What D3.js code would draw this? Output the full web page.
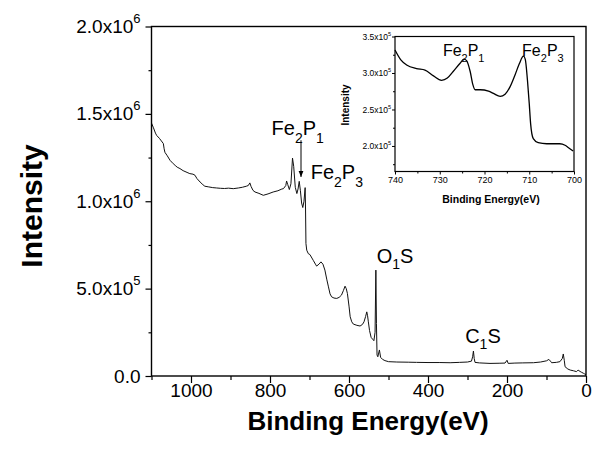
<!DOCTYPE html>
<html><head><meta charset="utf-8">
<script src="https://cdn.jsdelivr.net/npm/d3@7"></script>
<style>
body{margin:0;background:#fff;}
svg{display:block;font-family:"Liberation Sans",Arial,sans-serif;}
</style></head>
<body><svg id="c" width="609" height="461"></svg>
<script>
// ---- main survey spectrum (binding energy eV, intensity counts) ----
const mainEnergy = [1100,1095,1090,1087,1080,1075,1070,1068,1066,1060,1053,1045,1040,1035,1028,1020,1010,1003,995,990,985,977,970,965,955,945,935,925,915,905,893,880,870,860,855,851,848,843,838,828,817,805,792,780,770,766,760,758,755,751,747,743,740,736,732,729,726,723,720,717,714,711,710,709,707,703,699,690,685,682,676,671,666,661,656,652,648,644,638,631,625,619,614,610,607,604,600,597,593,589,580,572,566,562,558,555,553,551,548,544,540,537,534,532,530.5,529,527,523,520,515,509,500,479,450,429,400,370,344,320,300,290,287,285,283,281,270,243,220,205,200,197,180,160,133,115,100,94,90,87,75,66,60,57.5,55,53,46,40,32,24,20,15,11,6,3,0];
const mainIntensity = [1.447,1.42,1.39,1.377,1.36,1.345,1.33,1.30,1.28,1.26,1.234,1.215,1.205,1.195,1.187,1.175,1.165,1.158,1.155,1.149,1.13,1.11,1.095,1.086,1.082,1.078,1.076,1.074,1.073,1.075,1.072,1.076,1.08,1.086,1.09,1.105,1.085,1.062,1.053,1.045,1.034,1.042,1.053,1.06,1.07,1.072,1.09,1.116,1.095,1.067,1.10,1.247,1.20,1.08,1.044,1.07,1.114,1.06,0.99,0.964,1.00,1.078,0.95,0.758,0.72,0.70,0.695,0.66,0.64,0.629,0.64,0.653,0.64,0.606,0.55,0.51,0.47,0.453,0.446,0.444,0.45,0.463,0.49,0.514,0.50,0.472,0.40,0.339,0.31,0.297,0.29,0.286,0.295,0.31,0.34,0.367,0.345,0.31,0.26,0.221,0.21,0.202,0.25,0.606,0.30,0.12,0.11,0.149,0.107,0.095,0.088,0.082,0.08,0.079,0.078,0.077,0.077,0.076,0.078,0.08,0.085,0.11,0.143,0.10,0.078,0.075,0.072,0.073,0.074,0.09,0.072,0.074,0.075,0.076,0.08,0.087,0.095,0.085,0.076,0.078,0.082,0.10,0.126,0.09,0.053,0.04,0.034,0.03,0.025,0.034,0.026,0.021,0.015,0.011,0.008].map(v => v * 1e6);

// ---- inset: Fe 2p region ----
const insetEnergy = [740,738.7,737.4,735.2,733.3,731.4,729.6,728.3,727,725.5,724.6,724,723.2,722.6,722.1,721,719.1,718,716.5,715.4,714.3,713.2,712.2,711.3,710.9,710.4,710,709.7,709.1,708,706.1,703.2,702,701.3,700.2];
const insetIntensity = [3.315,3.18,3.11,3.06,3.04,2.96,2.90,2.93,3.02,3.13,3.19,3.17,3.02,2.84,2.77,2.77,2.75,2.72,2.68,2.71,2.81,2.97,3.13,3.23,3.19,2.90,2.58,2.31,2.10,2.045,2.03,2.03,2.01,1.98,1.93].map(v => v * 1e5);

const mainXMajor = [1000,800,600,400,200,0];
const mainXMinor = [1100,900,700,500,300,100];
const mainYMajor = [0,5e5,1e6,1.5e6,2e6];
const mainYMinor = [2.5e5,7.5e5,1.25e6,1.75e6];
const insetXMajor = [740,730,720,710,700];
const insetXMinor = [735,725,715,705];
const insetYMajor = [2.0e5,2.5e5,3.0e5,3.5e5];
const insetYMinor = [1.75e5,2.25e5,2.75e5,3.25e5];

const svg = d3.select('#c');
const FONT = '"Liberation Sans",Arial,sans-serif';

function sciLabel(sel, supSize, supDy) {
  sel.each(function(d){
    const t = d3.select(this); t.text('');
    if (d === 0) { t.text('0.0'); return; }
    const e = Math.floor(Math.log10(d) + 1e-9);
    const m = (d / Math.pow(10, e)).toFixed(1);
    t.append('tspan').text(m + 'x10');
    t.append('tspan').attr('dy', supDy).attr('font-size', supSize).text(e);
  });
}

// ---------- main chart ----------
const x = d3.scaleLinear().domain([1100, 0]).range([151.5, 586]);
const y = d3.scaleLinear().domain([0, 2e6]).range([376, 26.5]);

const g = svg.append('g');

g.append('path')
  .datum(mainEnergy.map((e,i)=>[e, mainIntensity[i]]))
  .attr('fill','none').attr('stroke','#111').attr('stroke-width',1)
  .attr('stroke-linejoin','round')
  .attr('d', d3.line().x(d=>x(d[0])).y(d=>y(d[1])));

// axes
const xMaj = g.append('g').attr('transform','translate(0,376)')
  .call(d3.axisBottom(x).tickValues(mainXMajor).tickSize(7).tickSizeOuter(0).tickFormat(d3.format('d')));
xMaj.select('.domain').remove();
xMaj.selectAll('text').attr('y', 21).attr('dy', 0).attr('font-size', 19).attr('font-family', FONT).attr('fill','#000');
const xMin = g.append('g').attr('transform','translate(0,376)')
  .call(d3.axisBottom(x).tickValues(mainXMinor).tickSize(4).tickFormat(''));
xMin.select('.domain').remove();

const yMaj = g.append('g').attr('transform','translate(151.5,0)')
  .call(d3.axisLeft(y).tickValues(mainYMajor).tickSize(6).tickSizeOuter(0));
yMaj.select('.domain').remove();
yMaj.selectAll('text').attr('x', -11).attr('dy', 6).attr('font-size', 19).attr('font-family', FONT).attr('fill','#000')
  .call(sciLabel, 13, -10);
const yMin = g.append('g').attr('transform','translate(151.5,0)')
  .call(d3.axisLeft(y).tickValues(mainYMinor).tickSize(3).tickFormat(''));
yMin.select('.domain').remove();
g.selectAll('.tick line').attr('stroke','#000').attr('stroke-width',1.2);

// frame
g.append('rect').attr('x', x(1100)).attr('y', y(2e6))
  .attr('width', x(0)-x(1100)).attr('height', y(0)-y(2e6))
  .attr('fill','none').attr('stroke','#000').attr('stroke-width',1.4);

// titles
svg.append('text').attr('x', 368).attr('y', 430).attr('text-anchor','middle')
  .attr('font-size', 26).attr('font-weight','bold').text('Binding Energy(eV)');
svg.append('text').attr('transform','translate(42,206) rotate(-90)').attr('text-anchor','middle')
  .attr('font-size', 30).attr('font-weight','bold').text('Intensity');

// annotations with subscripts
function subLabel(parent, px, py, parts, size, subSize, subDy) {
  const t = parent.append('text').attr('x', px).attr('y', py).attr('font-size', size).attr('fill','#000');
  let off = 0;
  parts.forEach(p => {
    const target = p.sub ? subDy : 0;
    const ts = t.append('tspan').attr('dy', target - off).text(p.t);
    if (p.sub) ts.attr('font-size', subSize);
    off = target;
  });
  return t;
}
const fe1 = [{t:'Fe'},{t:'2',sub:1},{t:'P'},{t:'1',sub:1}];
const fe3 = [{t:'Fe'},{t:'2',sub:1},{t:'P'},{t:'3',sub:1}];
subLabel(svg, x(796), y(1.377e6), fe1, 20, 14, 8);
subLabel(svg, x(697), y(1.126e6), fe3, 20, 14, 8);
subLabel(svg, x(530), y(0.644e6), [{t:'O'},{t:'1',sub:1},{t:'S'}], 20, 14, 6);
subLabel(svg, x(306), y(0.19e6), [{t:'C'},{t:'1',sub:1},{t:'S'}], 20, 14, 6);

// arrow
svg.append('defs').append('marker').attr('id','ah').attr('viewBox','0 0 10 10')
  .attr('refX',10).attr('refY',5).attr('markerWidth',6).attr('markerHeight',8)
  .attr('orient','auto').append('path').attr('d','M0,1L10,5L0,9Z').attr('fill','#000');
svg.append('line').attr('x1', x(721.5)).attr('x2', x(721.5))
  .attr('y1', y(1.349e6)).attr('y2', y(1.139e6))
  .attr('stroke','#000').attr('stroke-width',1).attr('marker-end','url(#ah)');

// ---------- inset ----------
const xi = d3.scaleLinear().domain([740, 700]).range([395, 574]);
const yi = d3.scaleLinear().domain([1.65e5, 3.5e5]).range([171.5, 36.5]);
const gi = svg.append('g');
gi.append('rect').attr('x', xi(740)).attr('y', yi(3.5e5)).attr('width', xi(700)-xi(740))
  .attr('height', yi(1.65e5)-yi(3.5e5)).attr('fill','#fff').attr('stroke','#000').attr('stroke-width',1.2);
gi.append('path')
  .datum(insetEnergy.map((e,i)=>[e, insetIntensity[i]]))
  .attr('fill','none').attr('stroke','#000').attr('stroke-width',1.3).attr('stroke-linejoin','round')
  .attr('d', d3.line().curve(d3.curveMonotoneX).x(d=>xi(d[0])).y(d=>yi(d[1])));

const xiMaj = gi.append('g').attr('transform', `translate(0,${yi(1.65e5)})`)
  .call(d3.axisBottom(xi).tickValues(insetXMajor).tickSize(3).tickFormat(d3.format('d')));
xiMaj.select('.domain').remove();
xiMaj.selectAll('text').attr('y', 11).attr('dy', 0).attr('font-size', 9).attr('font-family', FONT).attr('fill','#000');
const xiMin = gi.append('g').attr('transform', `translate(0,${yi(1.65e5)})`)
  .call(d3.axisBottom(xi).tickValues(insetXMinor).tickSize(2).tickFormat(''));
xiMin.select('.domain').remove();
const yiMaj = gi.append('g').attr('transform', `translate(${xi(740)},0)`)
  .call(d3.axisLeft(yi).tickValues(insetYMajor).tickSize(3));
yiMaj.select('.domain').remove();
yiMaj.selectAll('text').attr('x', -4).attr('dy', 3).attr('font-size', 8.5).attr('font-family', FONT).attr('fill','#000')
  .call(sciLabel, 5.5, -4);
const yiMin = gi.append('g').attr('transform', `translate(${xi(740)},0)`)
  .call(d3.axisLeft(yi).tickValues(insetYMinor).tickSize(2).tickFormat(''));
yiMin.select('.domain').remove();
gi.selectAll('.tick line').attr('stroke','#000');

svg.append('text').attr('x', 491).attr('y', 203).attr('text-anchor','middle')
  .attr('font-size', 10.5).attr('font-weight','bold').text('Binding Energy(eV)');
svg.append('text').attr('transform','translate(349,105) rotate(-90)').attr('text-anchor','middle')
  .attr('font-size', 10).attr('font-weight','bold').text('Intensity');

subLabel(svg, xi(729.3), yi(3.233e5), fe1, 16, 11, 6);
subLabel(svg, xi(711.6), yi(3.233e5), fe3, 16, 11, 6);
</script></body></html>
